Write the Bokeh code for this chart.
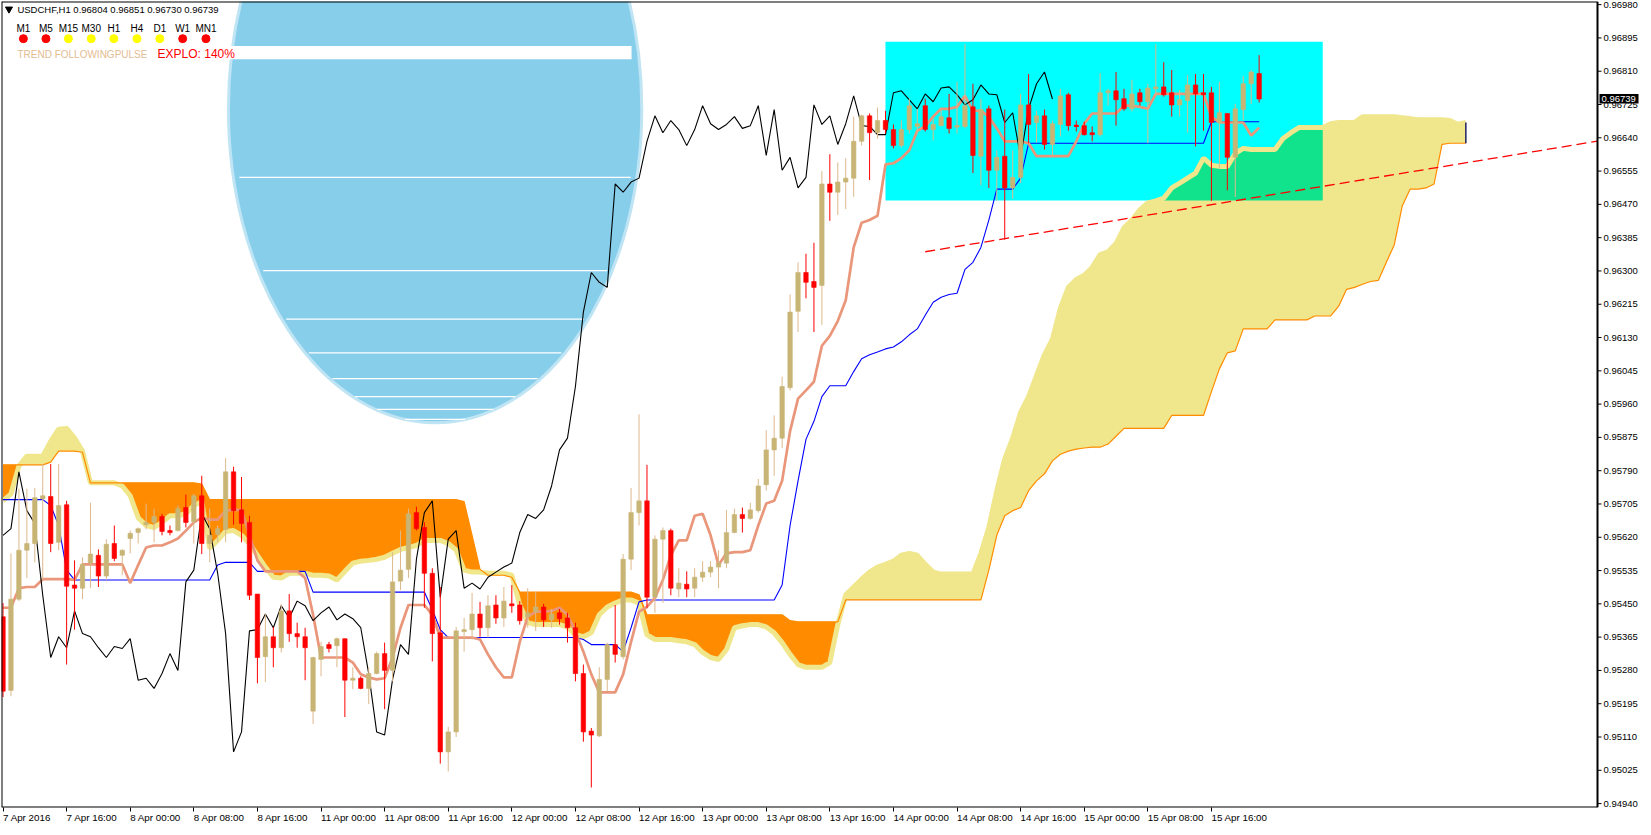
import numpy as np
from bokeh.plotting import figure
from bokeh.models import Range1d, FixedTicker, PrintfTickFormatter
from bokeh.core.properties import value
from bokeh.embed import file_html
from bokeh.resources import INLINE

# ---------------- data ----------------
symbol_header = "USDCHF,H1  0.96804 0.96851 0.96730 0.96739"
xtick_labels = ["7 Apr 2016", "7 Apr 16:00", "8 Apr 00:00", "8 Apr 08:00", "8 Apr 16:00",
                "11 Apr 00:00", "11 Apr 08:00", "11 Apr 16:00", "12 Apr 00:00", "12 Apr 08:00",
                "12 Apr 16:00", "13 Apr 00:00", "13 Apr 08:00", "13 Apr 16:00", "14 Apr 00:00",
                "14 Apr 08:00", "14 Apr 16:00", "15 Apr 00:00", "15 Apr 08:00", "15 Apr 16:00"]
bars_per_tick = 8
ytick_values = [0.94940, 0.95025, 0.95110, 0.95195, 0.95280, 0.95365, 0.95450, 0.95535,
                0.95620, 0.95705, 0.95790, 0.95875, 0.95960, 0.96045, 0.96130, 0.96215,
                0.96300, 0.96385, 0.96470, 0.96555, 0.96640, 0.96725, 0.96810, 0.96895, 0.96980]
last_price = 0.96739

bar_open = [
 0.95417, 0.95229, 0.95462, 0.95587, 0.95604, 0.95718, 0.95724, 0.95607, 0.95703, 0.95498,
 0.95490, 0.95554, 0.95574, 0.95521, 0.95604, 0.95574, 0.95617, 0.95632, 0.95652, 0.95658,
 0.95673, 0.95637, 0.95637, 0.95696, 0.95660, 0.95726, 0.95604, 0.95627, 0.95640, 0.95787,
 0.95690, 0.95658, 0.95475, 0.95315, 0.95366, 0.95338, 0.95432, 0.95374, 0.95366, 0.95176,
 0.95308, 0.95346, 0.95343, 0.95361, 0.95255, 0.95260, 0.95234, 0.95272, 0.95323, 0.95280,
 0.95508, 0.95538, 0.95683, 0.95645, 0.95528, 0.95376, 0.95072, 0.95123, 0.95379, 0.95384,
 0.95424, 0.95389, 0.95447, 0.95414, 0.95450, 0.95447, 0.95417, 0.95430, 0.95442, 0.95409,
 0.95427, 0.95414, 0.95389, 0.95272, 0.95125, 0.95113, 0.95257, 0.95346, 0.95315, 0.95564,
 0.95683, 0.95713, 0.95467, 0.95615, 0.95637, 0.95488, 0.95500, 0.95490, 0.95518, 0.95531,
 0.95544, 0.95554, 0.95632, 0.95678, 0.95668, 0.95688, 0.95754, 0.95843, 0.95873, 0.96002,
 0.96197, 0.96296, 0.96273, 0.96263, 0.96522, 0.96501, 0.96527, 0.96537, 0.96631, 0.96696,
 0.96653, 0.96684, 0.96661, 0.96620, 0.96661, 0.96669, 0.96722, 0.96661, 0.96671, 0.96691,
 0.96669, 0.96669, 0.96719, 0.96593, 0.96714, 0.96557, 0.96593, 0.96512, 0.96539, 0.96724,
 0.96679, 0.96696, 0.96623, 0.96674, 0.96750, 0.96671, 0.96671, 0.96653, 0.96648, 0.96755,
 0.96760, 0.96740, 0.96714, 0.96755, 0.96732, 0.96765, 0.96770, 0.96755, 0.96724, 0.96735,
 0.96775, 0.96755, 0.96755, 0.96679, 0.96702, 0.96590, 0.96712, 0.96778, 0.96804]
bar_high = [
 0.95452, 0.95579, 0.95744, 0.95744, 0.95746, 0.95807, 0.95807, 0.95807, 0.95713, 0.95561,
 0.95569, 0.95708, 0.95589, 0.95615, 0.95650, 0.95589, 0.95637, 0.95645, 0.95706, 0.95693,
 0.95680, 0.95650, 0.95701, 0.95729, 0.95731, 0.95777, 0.95693, 0.95650, 0.95822, 0.95800,
 0.95774, 0.95675, 0.95475, 0.95424, 0.95391, 0.95450, 0.95475, 0.95402, 0.95389, 0.95315,
 0.95353, 0.95353, 0.95364, 0.95361, 0.95288, 0.95265, 0.95288, 0.95328, 0.95351, 0.95582,
 0.95637, 0.95693, 0.95698, 0.95658, 0.95541, 0.95493, 0.95136, 0.95391, 0.95414, 0.95478,
 0.95455, 0.95472, 0.95472, 0.95493, 0.95498, 0.95457, 0.95490, 0.95480, 0.95450, 0.95437,
 0.95437, 0.95427, 0.95402, 0.95295, 0.95133, 0.95288, 0.95351, 0.95447, 0.95577, 0.95746,
 0.95934, 0.95805, 0.95625, 0.95645, 0.95642, 0.95541, 0.95533, 0.95541, 0.95559, 0.95559,
 0.95587, 0.95690, 0.95693, 0.95696, 0.95708, 0.95769, 0.95893, 0.95931, 0.96030, 0.96240,
 0.96322, 0.96344, 0.96372, 0.96555, 0.96598, 0.96577, 0.96588, 0.96694, 0.96699, 0.96702,
 0.96717, 0.96709, 0.96674, 0.96684, 0.96740, 0.96714, 0.96740, 0.96689, 0.96714, 0.96752,
 0.96783, 0.96879, 0.96778, 0.96740, 0.96722, 0.96608, 0.96712, 0.96608, 0.96752, 0.96803,
 0.96709, 0.96712, 0.96684, 0.96765, 0.96755, 0.96684, 0.96681, 0.96669, 0.96805, 0.96765,
 0.96808, 0.96765, 0.96788, 0.96765, 0.96778, 0.96879, 0.96833, 0.96813, 0.96762, 0.96800,
 0.96803, 0.96803, 0.96770, 0.96783, 0.96702, 0.96727, 0.96798, 0.96813, 0.96851]
bar_low = [
 0.95212, 0.95214, 0.95457, 0.95516, 0.95556, 0.95511, 0.95582, 0.95587, 0.95295, 0.95384,
 0.95462, 0.95490, 0.95493, 0.95511, 0.95559, 0.95523, 0.95579, 0.95604, 0.95640, 0.95607,
 0.95625, 0.95625, 0.95635, 0.95645, 0.95604, 0.95577, 0.95556, 0.95607, 0.95607, 0.95652,
 0.95607, 0.95460, 0.95247, 0.95250, 0.95288, 0.95326, 0.95353, 0.95338, 0.95255, 0.95143,
 0.95265, 0.95326, 0.95288, 0.95161, 0.95232, 0.95232, 0.95194, 0.95270, 0.95181, 0.95252,
 0.95485, 0.95516, 0.95637, 0.95440, 0.95303, 0.95042, 0.95022, 0.95110, 0.95328, 0.95359,
 0.95366, 0.95364, 0.95399, 0.95391, 0.95427, 0.95397, 0.95389, 0.95381, 0.95391, 0.95389,
 0.95397, 0.95351, 0.95252, 0.95098, 0.94981, 0.95110, 0.95227, 0.95300, 0.95308, 0.95536,
 0.95650, 0.95440, 0.95427, 0.95452, 0.95472, 0.95467, 0.95467, 0.95467, 0.95506, 0.95518,
 0.95490, 0.95541, 0.95630, 0.95632, 0.95665, 0.95683, 0.95739, 0.95777, 0.95848, 0.95995,
 0.96144, 0.96230, 0.96144, 0.96162, 0.96428, 0.96443, 0.96458, 0.96489, 0.96620, 0.96532,
 0.96638, 0.96651, 0.96613, 0.96615, 0.96651, 0.96651, 0.96656, 0.96633, 0.96669, 0.96651,
 0.96651, 0.96664, 0.96550, 0.96519, 0.96512, 0.96479, 0.96380, 0.96484, 0.96524, 0.96626,
 0.96628, 0.96610, 0.96593, 0.96643, 0.96658, 0.96656, 0.96646, 0.96631, 0.96643, 0.96722,
 0.96671, 0.96709, 0.96707, 0.96722, 0.96626, 0.96747, 0.96745, 0.96694, 0.96694, 0.96653,
 0.96618, 0.96658, 0.96479, 0.96562, 0.96506, 0.96489, 0.96686, 0.96727, 0.96730]
bar_close = [
 0.95227, 0.95462, 0.95587, 0.95604, 0.95721, 0.95726, 0.95604, 0.95701, 0.95495, 0.95490,
 0.95551, 0.95577, 0.95521, 0.95602, 0.95566, 0.95587, 0.95630, 0.95642, 0.95658, 0.95673,
 0.95635, 0.95632, 0.95693, 0.95658, 0.95726, 0.95604, 0.95625, 0.95642, 0.95787, 0.95688,
 0.95655, 0.95472, 0.95313, 0.95366, 0.95338, 0.95432, 0.95374, 0.95366, 0.95338, 0.95313,
 0.95341, 0.95336, 0.95361, 0.95255, 0.95260, 0.95234, 0.95272, 0.95323, 0.95280, 0.95506,
 0.95536, 0.95680, 0.95642, 0.95528, 0.95374, 0.95072, 0.95123, 0.95381, 0.95384, 0.95424,
 0.95389, 0.95445, 0.95414, 0.95457, 0.95445, 0.95407, 0.95427, 0.95442, 0.95409, 0.95424,
 0.95412, 0.95389, 0.95272, 0.95123, 0.95115, 0.95257, 0.95346, 0.95321, 0.95564, 0.95683,
 0.95713, 0.95467, 0.95615, 0.95637, 0.95490, 0.95503, 0.95488, 0.95518, 0.95531, 0.95544,
 0.95554, 0.95632, 0.95678, 0.95668, 0.95690, 0.95751, 0.95843, 0.95873, 0.96005, 0.96195,
 0.96296, 0.96271, 0.96258, 0.96522, 0.96501, 0.96527, 0.96537, 0.96631, 0.96696, 0.96653,
 0.96684, 0.96661, 0.96620, 0.96661, 0.96722, 0.96676, 0.96661, 0.96674, 0.96694, 0.96664,
 0.96671, 0.96722, 0.96595, 0.96712, 0.96557, 0.96590, 0.96512, 0.96539, 0.96724, 0.96674,
 0.96696, 0.96623, 0.96676, 0.96747, 0.96671, 0.96669, 0.96648, 0.96648, 0.96755, 0.96760,
 0.96737, 0.96714, 0.96752, 0.96732, 0.96767, 0.96770, 0.96750, 0.96724, 0.96737, 0.96775,
 0.96752, 0.96750, 0.96679, 0.96704, 0.96590, 0.96714, 0.96778, 0.96808, 0.96739]

tenkan = [
 0.95440, 0.95440, 0.95490, 0.95493, 0.95493, 0.95513, 0.95513, 0.95513, 0.95513, 0.95511,
 0.95551, 0.95551, 0.95551, 0.95551, 0.95551, 0.95551, 0.95503, 0.95549, 0.95594, 0.95599,
 0.95599, 0.95607, 0.95617, 0.95637, 0.95658, 0.95670, 0.95665, 0.95665, 0.95688, 0.95690,
 0.95690, 0.95625, 0.95561, 0.95533, 0.95533, 0.95533, 0.95533, 0.95533, 0.95516, 0.95422,
 0.95313, 0.95313, 0.95313, 0.95313, 0.95300, 0.95270, 0.95262, 0.95257, 0.95260, 0.95313,
 0.95389, 0.95447, 0.95447, 0.95447, 0.95422, 0.95364, 0.95364, 0.95364, 0.95364, 0.95364,
 0.95359, 0.95321, 0.95288, 0.95262, 0.95262, 0.95353, 0.95417, 0.95430, 0.95430, 0.95432,
 0.95440, 0.95422, 0.95379, 0.95328, 0.95270, 0.95224, 0.95224, 0.95224, 0.95270, 0.95353,
 0.95430, 0.95442, 0.95465, 0.95511, 0.95574, 0.95612, 0.95612, 0.95675, 0.95680, 0.95625,
 0.95549, 0.95579, 0.95582, 0.95582, 0.95587, 0.95650, 0.95706, 0.95713, 0.95764, 0.95891,
 0.95974, 0.95995, 0.96017, 0.96109, 0.96134, 0.96172, 0.96225, 0.96360, 0.96423, 0.96430,
 0.96441, 0.96572, 0.96575, 0.96588, 0.96608, 0.96658, 0.96669, 0.96694, 0.96714, 0.96714,
 0.96719, 0.96747, 0.96709, 0.96709, 0.96694, 0.96664, 0.96631, 0.96631, 0.96631, 0.96626,
 0.96593, 0.96593, 0.96593, 0.96593, 0.96593, 0.96631, 0.96676, 0.96702, 0.96702, 0.96702,
 0.96702, 0.96722, 0.96722, 0.96719, 0.96714, 0.96752, 0.96752, 0.96752, 0.96752, 0.96752,
 0.96752, 0.96752, 0.96694, 0.96679, 0.96679, 0.96679, 0.96679, 0.96646, 0.96666]
kijun = [
 0.95716, 0.95716, 0.95716, 0.95716, 0.95716, 0.95716, 0.95701, 0.95650, 0.95536, 0.95511,
 0.95511, 0.95511, 0.95511, 0.95511, 0.95511, 0.95511, 0.95511, 0.95511, 0.95511, 0.95511,
 0.95511, 0.95511, 0.95511, 0.95511, 0.95511, 0.95511, 0.95511, 0.95549, 0.95556, 0.95556,
 0.95556, 0.95556, 0.95533, 0.95533, 0.95533, 0.95533, 0.95533, 0.95533, 0.95533, 0.95480,
 0.95480, 0.95480, 0.95480, 0.95480, 0.95480, 0.95480, 0.95480, 0.95480, 0.95480, 0.95480,
 0.95480, 0.95480, 0.95480, 0.95480, 0.95435, 0.95384, 0.95364, 0.95364, 0.95364, 0.95364,
 0.95364, 0.95364, 0.95364, 0.95364, 0.95364, 0.95364, 0.95364, 0.95364, 0.95364, 0.95364,
 0.95364, 0.95364, 0.95364, 0.95359, 0.95346, 0.95346, 0.95346, 0.95346, 0.95328, 0.95389,
 0.95455, 0.95460, 0.95460, 0.95460, 0.95460, 0.95460, 0.95460, 0.95460, 0.95460, 0.95460,
 0.95460, 0.95460, 0.95460, 0.95460, 0.95460, 0.95460, 0.95460, 0.95460, 0.95498, 0.95650,
 0.95764, 0.95870, 0.95916, 0.95979, 0.96007, 0.96007, 0.96007, 0.96043, 0.96076, 0.96086,
 0.96093, 0.96101, 0.96106, 0.96119, 0.96137, 0.96152, 0.96187, 0.96220, 0.96233, 0.96240,
 0.96243, 0.96304, 0.96322, 0.96360, 0.96430, 0.96509, 0.96509, 0.96509, 0.96537, 0.96626,
 0.96626, 0.96626, 0.96626, 0.96626, 0.96626, 0.96626, 0.96626, 0.96626, 0.96626, 0.96626,
 0.96626, 0.96626, 0.96626, 0.96626, 0.96626, 0.96626, 0.96626, 0.96626, 0.96626, 0.96626,
 0.96626, 0.96626, 0.96681, 0.96681, 0.96681, 0.96681, 0.96681, 0.96681, 0.96681]
senkou_a = [
 0.95713, 0.95731, 0.95802, 0.95827, 0.95827, 0.95827, 0.95865, 0.95896, 0.95898, 0.95873,
 0.95840, 0.95759, 0.95759, 0.95759, 0.95759, 0.95751, 0.95726, 0.95670, 0.95650, 0.95645,
 0.95658, 0.95675, 0.95675, 0.95680, 0.95701, 0.95711, 0.95592, 0.95612, 0.95635, 0.95637,
 0.95625, 0.95604, 0.95574, 0.95544, 0.95518, 0.95516, 0.95528, 0.95528, 0.95528, 0.95523,
 0.95523, 0.95521, 0.95511, 0.95533, 0.95554, 0.95559, 0.95561, 0.95564, 0.95569, 0.95579,
 0.95589, 0.95594, 0.95599, 0.95612, 0.95612, 0.95612, 0.95604, 0.95587, 0.95536, 0.95531,
 0.95531, 0.95528, 0.95528, 0.95528, 0.95523, 0.95447, 0.95402, 0.95397, 0.95397, 0.95397,
 0.95397, 0.95391, 0.95371, 0.95366, 0.95376, 0.95422, 0.95442, 0.95452, 0.95460, 0.95460,
 0.95452, 0.95371, 0.95359, 0.95359, 0.95359, 0.95356, 0.95353, 0.95346, 0.95326, 0.95313,
 0.95308, 0.95333, 0.95389, 0.95394, 0.95397, 0.95397, 0.95391, 0.95376, 0.95351, 0.95321,
 0.95295, 0.95288, 0.95288, 0.95288, 0.95300, 0.95397, 0.95473, 0.95493, 0.95513, 0.95531,
 0.95544, 0.95551, 0.95559, 0.95574, 0.95579, 0.95574, 0.95551, 0.95531, 0.95526, 0.95526,
 0.95526, 0.95526, 0.95526, 0.95579, 0.95645, 0.95739, 0.95820, 0.95873, 0.95939, 0.95979,
 0.96033, 0.96086, 0.96126, 0.96205, 0.96258, 0.96278, 0.96289, 0.96309, 0.96342, 0.96349,
 0.96370, 0.96410, 0.96430, 0.96456, 0.96474, 0.96479, 0.96486, 0.96512, 0.96524, 0.96537,
 0.96550, 0.96588, 0.96570, 0.96567, 0.96567, 0.96600, 0.96613, 0.96610, 0.96610, 0.96610,
 0.96610, 0.96638, 0.96653, 0.96666, 0.96666, 0.96666, 0.96666, 0.96676, 0.96679, 0.96679,
 0.96679, 0.96694, 0.96694, 0.96694, 0.96694, 0.96694, 0.96691, 0.96689, 0.96686, 0.96686,
 0.96686, 0.96686, 0.96684, 0.96674, 0.96679]
senkou_b = [
 0.95805, 0.95805, 0.95805, 0.95805, 0.95805, 0.95805, 0.95812, 0.95840, 0.95840, 0.95840,
 0.95837, 0.95759, 0.95759, 0.95759, 0.95759, 0.95759, 0.95759, 0.95759, 0.95759, 0.95759,
 0.95759, 0.95759, 0.95759, 0.95759, 0.95759, 0.95756, 0.95716, 0.95716, 0.95716, 0.95716,
 0.95716, 0.95716, 0.95716, 0.95716, 0.95716, 0.95716, 0.95716, 0.95716, 0.95716, 0.95716,
 0.95716, 0.95716, 0.95716, 0.95716, 0.95716, 0.95716, 0.95716, 0.95716, 0.95716, 0.95716,
 0.95716, 0.95716, 0.95716, 0.95716, 0.95716, 0.95716, 0.95716, 0.95716, 0.95711, 0.95625,
 0.95538, 0.95523, 0.95523, 0.95523, 0.95518, 0.95480, 0.95480, 0.95480, 0.95480, 0.95480,
 0.95480, 0.95480, 0.95480, 0.95480, 0.95480, 0.95480, 0.95480, 0.95480, 0.95480, 0.95480,
 0.95473, 0.95422, 0.95422, 0.95422, 0.95422, 0.95422, 0.95422, 0.95422, 0.95422, 0.95422,
 0.95422, 0.95422, 0.95422, 0.95422, 0.95422, 0.95422, 0.95422, 0.95422, 0.95422, 0.95407,
 0.95404, 0.95404, 0.95404, 0.95404, 0.95404, 0.95404, 0.95460, 0.95460, 0.95460, 0.95460,
 0.95460, 0.95460, 0.95460, 0.95460, 0.95460, 0.95460, 0.95460, 0.95460, 0.95460, 0.95460,
 0.95460, 0.95460, 0.95460, 0.95460, 0.95536, 0.95625, 0.95675, 0.95688, 0.95696, 0.95739,
 0.95764, 0.95782, 0.95815, 0.95832, 0.95840, 0.95845, 0.95848, 0.95850, 0.95850, 0.95858,
 0.95878, 0.95898, 0.95898, 0.95898, 0.95898, 0.95898, 0.95898, 0.95931, 0.95931, 0.95931,
 0.95931, 0.95931, 0.95992, 0.96050, 0.96091, 0.96096, 0.96152, 0.96152, 0.96152, 0.96152,
 0.96175, 0.96175, 0.96175, 0.96175, 0.96175, 0.96185, 0.96185, 0.96185, 0.96210, 0.96253,
 0.96258, 0.96266, 0.96273, 0.96276, 0.96322, 0.96367, 0.96466, 0.96509, 0.96509, 0.96512,
 0.96522, 0.96623, 0.96626, 0.96626, 0.96626]
chikou_shift = 26

tf_labels = ["M1", "M5", "M15", "M30", "H1", "H4", "D1", "W1", "MN1"]
tf_states = ["red", "red", "yellow", "yellow", "yellow", "yellow", "yellow", "red", "red"]

# drawn objects (time index, price)
box_left, box_right, box_top, box_bottom = 111, 166, 0.96885, 0.96480
trend_p1 = (116, 0.96349)
trend_p2 = (166, 0.96516)
ellipse_cx, ellipse_cy, ellipse_w, ellipse_h = 54.35, 0.967135, 52.0, 0.01603

assert len(bar_open) == len(bar_high) == len(bar_low) == len(bar_close) == len(tenkan) == len(kijun) == 159
assert len(senkou_a) == len(senkou_b) == 185

# ---------------- layout ----------------
def rx(px_):
    return (px_ - 3.5) / 8.0

def ry(py_):
    return 0.969927 - 0.00002534 * py_

CHART_W = 1596          # px of the price area
AXIS_W = 43             # px of the price-scale strip on the right
FRAME_H = 806
X0, X1 = -0.19, 200.56
Y0, Y1 = 0.94930, 0.96988
PPB = CHART_W / (X1 - X0)          # px per bar
PPP = FRAME_H / (Y1 - Y0)          # px per price unit
XE = X1 + AXIS_W / PPB             # right end of the frame (includes price strip)

p = figure(frame_width=CHART_W + AXIS_W, frame_height=FRAME_H,
           x_range=Range1d(X0, XE), y_range=Range1d(Y0, Y1),
           output_backend="svg", toolbar_location=None,
           y_axis_location="right", x_axis_location="below",
           min_border_left=1, min_border_top=1, min_border_right=0, min_border_bottom=0,
           background_fill_color="white", border_fill_color="white")
p.grid.visible = False
p.outline_line_color = None

FONT = "Liberation Sans"

# bottom time axis (labels start at their tick, MT4 style)
xa = p.xaxis[0]
xa.ticker = FixedTicker(ticks=[k * bars_per_tick for k in range(len(xtick_labels))])
xa.major_label_overrides = {k * bars_per_tick: lab for k, lab in enumerate(xtick_labels)}
xa.major_label_orientation = -0.0001
xa.axis_line_color = None
xa.major_tick_line_color = "black"
xa.major_tick_out = 4
xa.major_tick_in = 0
xa.minor_tick_line_color = None
xa.major_label_standoff = 6
xa.major_label_text_font = FONT
xa.major_label_text_font_size = "9.8px"
xa.major_label_text_color = "black"

# right price axis: labels drawn inside the price strip
ya = p.yaxis[0]
ya.ticker = FixedTicker(ticks=ytick_values)
ya.formatter = PrintfTickFormatter(format="%.5f")
ya.axis_line_color = None
ya.major_tick_line_color = None
ya.major_tick_out = 0
ya.major_tick_in = 0
ya.minor_tick_line_color = None
ya.major_label_standoff = -(AXIS_W - 6)
ya.major_label_text_font = FONT
ya.major_label_text_font_size = "9.5px"
ya.major_label_text_color = "black"

# ---------------- background objects ----------------
p.ellipse(x=[ellipse_cx], y=[ellipse_cy], width=[ellipse_w], height=[ellipse_h],
          fill_color="#87CEEB", line_color="#bfe4f4", line_width=3)
stripe_prices = [0.965387, 0.96301, 0.96177, 0.96091, 0.96025, 0.95979, 0.959465, 0.95921]
sx0, sx1, sy = [], [], []
for yy in stripe_prices:
    t = (yy - ellipse_cy) / (ellipse_h / 2)
    if abs(t) < 1:
        hw = ellipse_w / 2 * np.sqrt(1 - t * t) * 0.97
        sx0.append(ellipse_cx - hw); sx1.append(ellipse_cx + hw); sy.append(yy)
p.segment(x0=sx0, y0=sy, x1=sx1, y1=sy, line_color="white", line_width=1.3)
p.quad(left=[rx(227)], right=[rx(636)], top=[ry(46.7)], bottom=[ry(60)],
       fill_color="white", line_color=None)

p.quad(left=[box_left], right=[box_right], top=[box_top], bottom=[box_bottom],
       fill_color="#00FFFF", line_color=None)

# ---------------- Ichimoku cloud ----------------
sa = np.array(senkou_a); sb = np.array(senkou_b)
jx = np.arange(len(sa))
p.varea(x=jx, y1=sb, y2=np.maximum(sa, sb), fill_color="#F0E68C")
p.varea(x=jx, y1=sa, y2=np.maximum(sa, sb), fill_color="#FF8C00")
gm = (jx >= box_left) & (jx <= box_right)
p.varea(x=jx[gm], y1=np.full(gm.sum(), box_bottom),
        y2=np.clip(np.maximum(sa, sb)[gm], box_bottom, box_top), fill_color="#10E38B")
p.line(jx, sa, line_color="#F0E68C", line_width=5)
p.line(jx, sb, line_color="#FF8C00", line_width=1.2)
p.segment(x0=[jx[-1]], y0=[sa[-1]], x1=[jx[-1]], y1=[sb[-1]], line_color="#202060", line_width=1.5)

# ---------------- lines ----------------
o = np.array(bar_open); h = np.array(bar_high); l = np.array(bar_low); c = np.array(bar_close)
ix = np.arange(len(o))
p.line(ix, kijun, line_color="#0000FF", line_width=1.1)
p.line(ix, tenkan, line_color="#E9967A", line_width=2.7)
p.line(ix[:len(c) - chikou_shift], c[chikou_shift:], line_color="black", line_width=1.1)

# ---------------- candles ----------------
bull = c >= o
wick_col = np.where(bull, "#DDB98C", "#FF0000")
body_col = np.where(bull, "#C8B575", "#FF0000")
p.segment(x0=ix, y0=h, x1=ix, y1=l, line_color=wick_col.tolist(), line_width=1)
p.vbar(x=ix, width=0.56, top=np.maximum(o, c), bottom=np.minimum(o, c),
       fill_color=body_col.tolist(), line_color=body_col.tolist(), line_width=0.6)
doji = np.abs(o - c) < 0.00004
p.segment(x0=ix[doji] - 0.28, y0=o[doji], x1=ix[doji] + 0.28, y1=o[doji],
          line_color=body_col[doji].tolist(), line_width=2)

# ---------------- trend line (ray) ----------------
slope = (trend_p2[1] - trend_p1[1]) / (trend_p2[0] - trend_p1[0])
p.segment(x0=[trend_p1[0]], y0=[trend_p1[1]], x1=[X1], y1=[trend_p1[1] + slope * (X1 - trend_p1[0])],
          line_color="#FF0000", line_width=1.3, line_dash="10 5")

# ---------------- chart frame and price-scale ticks ----------------
p.segment(x0=[X0, X0, X0, X1], y0=[Y0, Y1, Y0, Y0], x1=[X0, X1, X1, X1], y1=[Y1, Y1, Y0, Y1],
          line_color="black", line_width=2)
p.segment(x0=[X1] * len(ytick_values), y0=ytick_values,
          x1=[X1 + 4 / PPB] * len(ytick_values), y1=ytick_values, line_color="black", line_width=1)

# current price marker on the price scale
p.quad(left=[X1 + 2 / PPB], right=[X1 + 41 / PPB],
       top=[last_price + 5 / PPP], bottom=[last_price - 4.5 / PPP],
       fill_color="black", line_color=None, level="overlay")
p.text(x=[X1 + 4 / PPB], y=[last_price], text=["%.5f" % last_price], text_font=value(FONT),
       text_font_size="9.5px", text_baseline="middle", text_align="left", text_color="white",
       level="overlay")

# ---------------- header texts ----------------
p.scatter(x=[rx(9.5)], y=[ry(9.5)], marker="inverted_triangle", size=7, color="black")
p.text(x=[rx(18)], y=[ry(10)], text=[symbol_header], text_font=value(FONT), text_font_size="9.5px",
       text_baseline="middle", text_align="left", text_color="black")
tf_px = [24, 46.7, 69.3, 92.3, 115, 138.3, 161.3, 184.3, 207.7]
p.text(x=[rx(v) for v in tf_px], y=[ry(29)] * len(tf_px), text=tf_labels, text_font=value(FONT),
       text_font_size="10px", text_baseline="middle", text_align="center", text_color="black")
dot_cols = ["#FF0000" if s == "red" else "#FFFF00" for s in tf_states]
p.scatter(x=[rx(v) for v in tf_px], y=[ry(39.3)] * len(tf_px), size=8, marker="circle",
          fill_color=dot_cols, line_color=dot_cols)
p.text(x=[rx(18)], y=[ry(55)], text=["TREND FOLLOWINGPULSE"], text_font=value(FONT),
       text_font_size="10px", text_baseline="middle", text_align="left", text_color="#E3BC92")
p.text(x=[rx(159)], y=[ry(55)], text=["EXPLO: 140%"], text_font=value(FONT),
       text_font_size="12px", text_baseline="middle", text_align="left", text_color="#FF0000")

open("out.html", "w").write(file_html(p, INLINE))
